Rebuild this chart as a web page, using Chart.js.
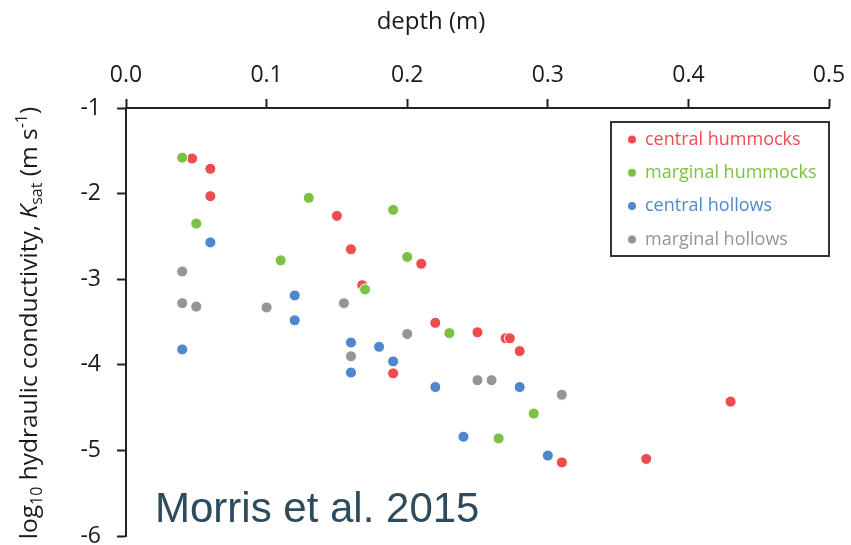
<!DOCTYPE html>
<html>
<head>
<meta charset="utf-8">
<script src="https://cdn.jsdelivr.net/npm/chart.js@4.4.1/dist/chart.umd.min.js"></script>
<style>
  html, body { margin: 0; padding: 0; background: #fff; }
</style>
</head>
<body>
<canvas id="myChart" width="851" height="545"></canvas>
<script>
// depth (m) and log10 Ksat
const centralHummocksDepth = [0.047, 0.06, 0.06, 0.15, 0.16, 0.168, 0.19, 0.21, 0.22, 0.25, 0.27, 0.273, 0.28, 0.31, 0.37, 0.43];
const centralHummocksK = [-1.59, -1.71, -2.03, -2.26, -2.65, -3.07, -4.10, -2.82, -3.51, -3.62, -3.69, -3.69, -3.84, -5.14, -5.10, -4.43];

const marginalHummocksDepth = [0.04, 0.05, 0.11, 0.13, 0.17, 0.19, 0.20, 0.23, 0.265, 0.29];
const marginalHummocksK = [-1.58, -2.35, -2.78, -2.05, -3.12, -2.19, -2.74, -3.63, -4.86, -4.57];

const centralHollowsDepth = [0.04, 0.06, 0.12, 0.12, 0.16, 0.16, 0.18, 0.19, 0.22, 0.24, 0.28, 0.30];
const centralHollowsK = [-3.82, -2.57, -3.19, -3.48, -3.74, -4.09, -3.79, -3.96, -4.26, -4.84, -4.26, -5.06];

const marginalHollowsDepth = [0.04, 0.04, 0.05, 0.10, 0.155, 0.16, 0.20, 0.25, 0.26, 0.31];
const marginalHollowsK = [-2.91, -3.28, -3.32, -3.33, -3.28, -3.90, -3.64, -4.18, -4.18, -4.35];

const seriesLabels = ['central hummocks', 'marginal hummocks', 'central hollows', 'marginal hollows'];
const seriesColors = ['#f04c4f', '#7cc142', '#4d88cc', '#939598'];

const xTicks = [0, 0.1, 0.2, 0.3, 0.4, 0.5];
const yTicks = [-1, -2, -3, -4, -5, -6];

const xTitle = 'depth (m)';
const sourceText = 'Morris et al. 2015';

const toPoints = (xs, ys) => xs.map((x, i) => ({ x: x, y: ys[i] }));

const allSeries = [
  toPoints(centralHummocksDepth, centralHummocksK),
  toPoints(marginalHummocksDepth, marginalHummocksK),
  toPoints(centralHollowsDepth, centralHollowsK),
  toPoints(marginalHollowsDepth, marginalHollowsK)
];

const tickFont = { family: 'Open Sans', size: 23 };
const axisColor = '#222';

// y title with subscripts / superscript, legend box and source text
const extraText = {
  id: 'extraText',
  afterDraw(chart) {
    const ctx = chart.ctx;
    ctx.save();
    ctx.fillStyle = '#1a1a1a';

    ctx.font = '24px "Open Sans"';
    ctx.textAlign = 'center';
    ctx.textBaseline = 'middle';
    ctx.fillText(xTitle, 431, 22);

    // y title, rotated
    const parts = [
      { t: 'log', f: '24.5px "Open Sans"', dy: 0 },
      { t: '10', f: '16px "Open Sans"', dy: 5 },
      { t: ' hydraulic conductivity, ', f: '24.5px "Open Sans"', dy: 0 },
      { t: 'K', f: 'italic 24.5px "Open Sans"', dy: 0 },
      { t: 'sat', f: '16px "Open Sans"', dy: 5 },
      { t: ' (m s', f: '24.5px "Open Sans"', dy: 0 },
      { t: '-1', f: '16px "Open Sans"', dy: -10 },
      { t: ')', f: '24.5px "Open Sans"', dy: 0 }
    ];
    let total = 0;
    parts.forEach(p => { ctx.font = p.f; p.w = ctx.measureText(p.t).width; total += p.w; });
    ctx.translate(37, 323);
    ctx.rotate(-Math.PI / 2);
    ctx.textAlign = 'left';
    ctx.textBaseline = 'alphabetic';
    let cx = -total / 2;
    parts.forEach(p => { ctx.font = p.f; ctx.fillText(p.t, cx, p.dy); cx += p.w; });
    ctx.setTransform(1, 0, 0, 1, 0, 0);

    // legend
    ctx.fillStyle = '#fff';
    ctx.fillRect(611, 122, 218, 134);
    ctx.strokeStyle = '#333';
    ctx.lineWidth = 2;
    ctx.strokeRect(611, 122, 218, 134);
    ctx.font = '18px "Open Sans"';
    ctx.textBaseline = 'middle';
    chart.data.datasets.forEach((ds, i) => {
      const y = 139.5 + i * 33.3;
      ctx.fillStyle = ds.backgroundColor;
      ctx.beginPath();
      ctx.arc(632, y, 4, 0, Math.PI * 2);
      ctx.fill();
      ctx.fillText(ds.label, 645, y);
    });

    ctx.font = '42px "Liberation Sans"';
    ctx.fillStyle = '#2e4b5d';
    ctx.textBaseline = 'alphabetic';
    ctx.fillText(sourceText, 155, 522);
    ctx.restore();
  }
};

const ctx = document.getElementById('myChart');

new Chart(ctx, {
  type: 'scatter',
  data: {
    datasets: allSeries.map((pts, i) => ({
      label: seriesLabels[i],
      data: pts,
      backgroundColor: seriesColors[i],
      borderColor: '#ffffff',
      borderWidth: 1,
      pointRadius: 5.5,
      order: allSeries.length - i
    }))
  },
  options: {
    responsive: false,
    animation: false,
    devicePixelRatio: 1,
    layout: { padding: { left: 0, top: 0, right: 22, bottom: 9 } },
    plugins: {
      legend: { display: false },
      tooltip: { enabled: false }
    },
    scales: {
      x: {
        type: 'linear',
        position: 'top',
        min: 0,
        max: 0.5,
        afterBuildTicks: s => { s.ticks = xTicks.map(v => ({ value: v })); },
        ticks: {
          callback: v => v.toFixed(1),
          font: tickFont,
          color: '#1a1a1a',
          padding: 10
        },
        grid: { drawOnChartArea: false, tickLength: 9, tickWidth: 2, tickColor: axisColor },
        border: { color: axisColor, width: 2 },
        afterFit: s => { s.height = 108; s.paddingLeft = 0; s.paddingRight = 0; }
      },
      y: {
        min: -6,
        max: -1,
        afterBuildTicks: s => { s.ticks = yTicks.map(v => ({ value: v })); },
        ticks: {
          font: tickFont,
          color: '#1a1a1a',
          padding: 16
        },
        grid: { drawOnChartArea: false, tickLength: 9, tickWidth: 2, tickColor: axisColor },
        border: { color: axisColor, width: 2 },
        afterFit: s => { s.width = 126; s.paddingTop = 0; s.paddingBottom = 0; }
      }
    }
  },
  plugins: [extraText]
});
</script>
</body>
</html>
